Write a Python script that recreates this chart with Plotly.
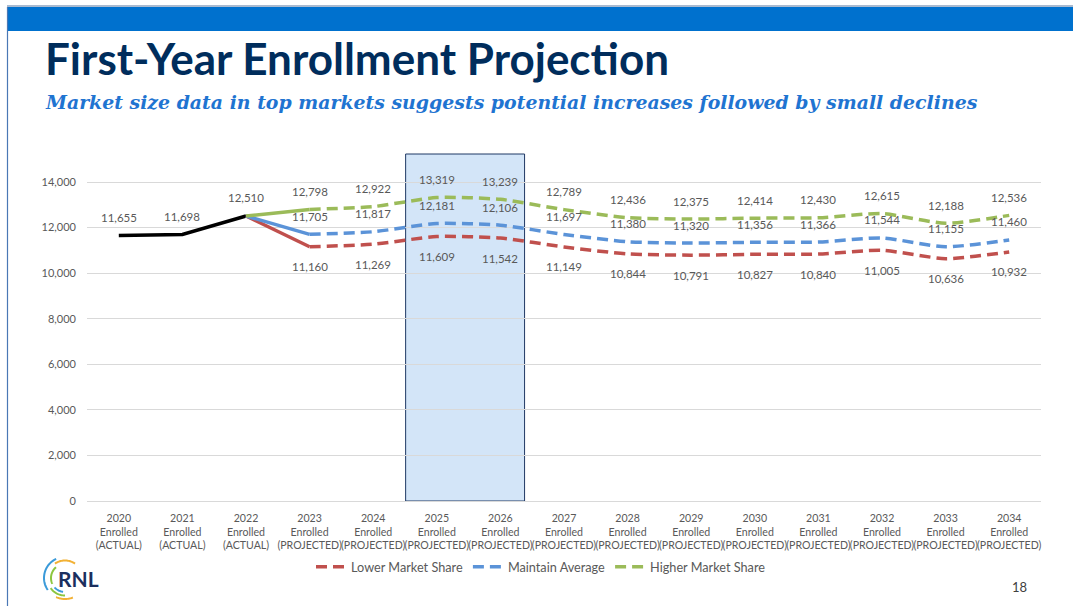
import math
import plotly.graph_objects as go

# ---------------- data ----------------
years = ["2020", "2021", "2022", "2023", "2024", "2025", "2026", "2027",
         "2028", "2029", "2030", "2031", "2032", "2033", "2034"]
status = ["ACTUAL"] * 3 + ["PROJECTED"] * 12
categories = [f"{y}<br>Enrolled<br>({s})" for y, s in zip(years, status)]

actual = [11655, 11698, 12510]
lower = [11160, 11269, 11609, 11542, 11149, 10844, 10791, 10827, 10840, 11005, 10636, 10932]
maintain = [11705, 11817, 12181, 12106, 11697, 11380, 11320, 11356, 11366, 11544, 11155, 11460]
higher = [12798, 12922, 13319, 13239, 12789, 12436, 12375, 12414, 12430, 12615, 12188, 12536]

# ---------------- styling ----------------
W, H = 1073, 606
PL, PR, PT, PB = 87, 1041, 154, 501  # plot area in px
YMAX = 15230
RED, BLUE, GREEN, BLACK = "#C0504D", "#5B93D8", "#9BBB59", "#000000"
GRAY = "#595959"
FONT = "Lato"
DASH = "11px,6px"
LW = 3.5


def px2paper(x, y):
    return (x - PL) / (PR - PL), (PB - y) / (PB - PT)


fig = go.Figure()

act_x = categories[:3]
proj_x = categories[3:]

# actual
fig.add_trace(go.Scatter(x=act_x, y=actual, mode="lines", line=dict(color=BLACK, width=LW),
                         showlegend=False, hoverinfo="skip"))

series = [("Lower Market Share", lower, RED),
          ("Maintain Average", maintain, BLUE),
          ("Higher Market Share", higher, GREEN)]
for name, vals, col in series:
    # solid connector from last actual to first projection
    fig.add_trace(go.Scatter(x=[categories[2], categories[3]], y=[actual[-1], vals[0]],
                             mode="lines", line=dict(color=col, width=LW),
                             showlegend=False, hoverinfo="skip"))
    fig.add_trace(go.Scatter(x=proj_x, y=vals, mode="lines", name=name,
                             line=dict(color=col, width=LW, dash=DASH, shape="spline", smoothing=0.6)))

# data labels
annotations = []
def add_labels(xs, vals, shift):
    for x, v in zip(xs, vals):
        annotations.append(dict(x=x, y=v, xref="x", yref="y", text=f"{v:,}", showarrow=False,
                                yshift=shift, font=dict(family=FONT, size=11.5, color=GRAY)))

add_labels(act_x, actual, 18)
add_labels(proj_x, higher, 18)
add_labels(proj_x, maintain, 18)
add_labels(proj_x, lower, -20)

# highlight box (2025-2026)
shapes = [dict(type="rect", xref="x", yref="paper", x0=4.51, x1=6.38, y0=0, y1=1,
               fillcolor="#D3E5F8", line=dict(color="#1F3864", width=1), layer="below")]

# slide decoration: top band, top line, left border
bx0, by0 = px2paper(7, 31)
bx1, by1 = px2paper(1073, 7)
shapes.append(dict(type="rect", xref="paper", yref="paper", x0=bx0, x1=bx1, y0=by0, y1=by1,
                   fillcolor="#0071CE", line=dict(width=0), layer="above"))
lx0, ly0 = px2paper(7, 6)
lx1, _ = px2paper(1073, 6)
shapes.append(dict(type="line", xref="paper", yref="paper", x0=lx0, x1=lx1, y0=ly0, y1=ly0,
                   line=dict(color="#8DA3C0", width=1.5)))
vx, vy0 = px2paper(7.5, 7)
_, vy1 = px2paper(7.5, 606)
shapes.append(dict(type="line", xref="paper", yref="paper", x0=vx, x1=vx, y0=vy0, y1=vy1,
                   line=dict(color="#4A78B5", width=1.2)))

# RNL logo arcs
def arc_path(cx, cy, r, a0, a1, n=24):
    pts = []
    for i in range(n + 1):
        a = math.radians(a0 + (a1 - a0) * i / n)
        px, py = cx + r * math.cos(a), cy - r * math.sin(a)
        pts.append(px2paper(px, py))
    return "M " + " L ".join(f"{x:.5f},{y:.5f}" for x, y in pts)

logo_cx, logo_cy = 65, 578
for r, a0, a1, col in [(21, 115, 215, "#3A9AD9"), (21, 245, 292, "#F2B134"),
                       (17.5, 55, 125, "#F2B134"), (17.5, 215, 270, "#8CC63F"),
                       (14, 130, 205, "#8CC63F"), (14, 222, 262, "#3A9AD9")]:
    shapes.append(dict(type="path", xref="paper", yref="paper", path=arc_path(logo_cx, logo_cy, r, a0, a1),
                       line=dict(color=col, width=2)))

# titles and other slide text
tx, ty = px2paper(43, 58)
annotations.append(dict(xref="paper", yref="paper", x=tx, y=ty, xanchor="left", yanchor="middle",
                        text="<b>First-Year Enrollment Projection</b>", showarrow=False,
                        font=dict(family="Lato", size=44, color="#002D5C")))
sx, sy = px2paper(43, 102)
annotations.append(dict(xref="paper", yref="paper", x=sx, y=sy, xanchor="left", yanchor="middle",
                        text="<b><i>Market size data in top markets suggests potential increases followed by small declines</i></b>",
                        showarrow=False, font=dict(family="DejaVu Serif", size=18.9, color="#1F74D1")))
nx, ny = px2paper(1029, 587)
annotations.append(dict(xref="paper", yref="paper", x=nx, y=ny, xanchor="right", yanchor="middle",
                        text="18", showarrow=False, font=dict(family=FONT, size=13, color="#404040")))
rx, ry = px2paper(56, 578)
annotations.append(dict(xref="paper", yref="paper", x=rx, y=ry, xanchor="left", yanchor="middle",
                        text="<b>RNL</b>", showarrow=False,
                        font=dict(family="Lato", size=21, color="#1B2F5E")))

lgx, lgy = px2paper(541, 567)
fig.update_layout(
    width=W, height=H,
    margin=dict(l=PL, r=W - PR, t=PT, b=H - PB, pad=0, autoexpand=False),
    paper_bgcolor="white", plot_bgcolor="white",
    font=dict(family=FONT, color=GRAY, size=11),
    shapes=shapes, annotations=annotations,
    showlegend=True,
    legend=dict(orientation="h", x=lgx, y=lgy, xanchor="center", yanchor="middle",
                font=dict(family=FONT, size=12.7, color=GRAY),
                bgcolor="rgba(0,0,0,0)"),
    xaxis=dict(type="category", categoryorder="array", categoryarray=categories,
               range=[-0.5, len(categories) - 0.5],
               showgrid=False, showline=True, linecolor="#D9D9D9", linewidth=1,
               tickfont=dict(family=FONT, size=10.6, color=GRAY), ticks="", tickangle=0,
               ticklabelstandoff=7, automargin=False, fixedrange=True),
    yaxis=dict(range=[0, YMAX], tickvals=list(range(0, 14001, 2000)), tickformat=",",
               showgrid=True, gridcolor="#D9D9D9", gridwidth=1, zeroline=False,
               tickfont=dict(family=FONT, size=11, color=GRAY), ticks="", ticklabelstandoff=10,
               automargin=False, fixedrange=True),
)

fig.write_html("out.html", config={"displayModeBar": False},
               post_script="document.body.style.margin='0';")
